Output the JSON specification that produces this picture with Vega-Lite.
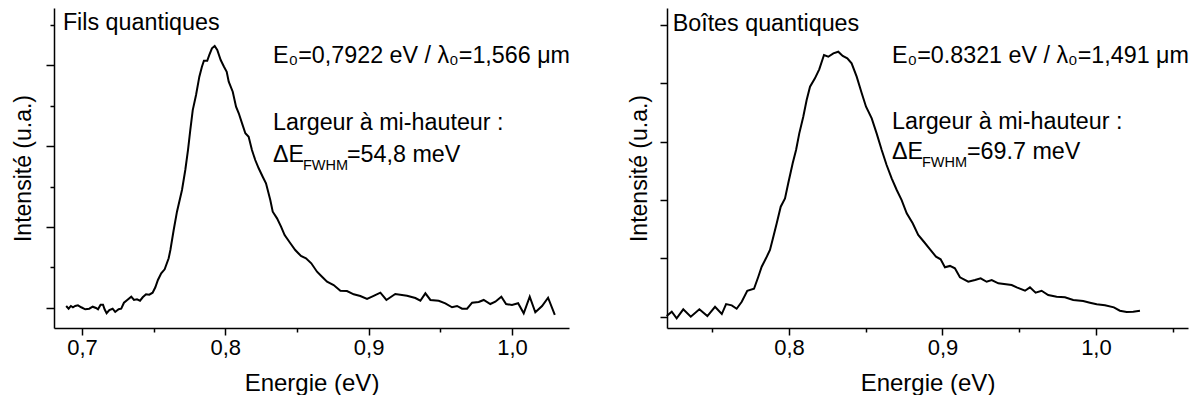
{
  "$schema": "https://vega.github.io/schema/vega-lite/v6.json",
  "padding": {"left": 12, "top": 8, "right": 0, "bottom": 0},
  "bounds": "flush",
  "spacing": 98,
  "config": {
    "view": {"stroke": null},
    "font": "Liberation Sans",
    "axis": {"grid": false, "domainColor": "black", "domainWidth": 1.5, "tickColor": "black", "tickWidth": 1.5, "labelColor": "black", "titleColor": "black", "labelFont": "Liberation Sans", "titleFont": "Liberation Sans", "labelFontSize": 22, "titleFontSize": 23, "titleFontWeight": "normal"}
  },
  "hconcat": [
    {
      "width": 515, "height": 320,
      "layer": [
        {
          "data": {"values": [
            {"E":0.6890,"I":0.025},{"E":0.6907,"I":-0.009},{"E":0.6923,"I":0.025},{"E":0.6937,"I":0.009},{"E":0.6953,"I":0.025},{"E":0.6972,"I":0.033},{"E":0.6995,"I":0.009},{"E":0.7023,"I":-0.016},{"E":0.7051,"I":-0.009},{"E":0.7075,"I":0.016},{"E":0.7098,"I":0},{"E":0.7112,"I":-0.016},{"E":0.7130,"I":0.041},{"E":0.7147,"I":0.041},{"E":0.7158,"I":-0.016},{"E":0.7172,"I":-0.065},{"E":0.7191,"I":-0.025},{"E":0.7214,"I":-0.009},{"E":0.7232,"I":-0.049},{"E":0.7256,"I":-0.016},{"E":0.7274,"I":-0.009},{"E":0.7293,"I":0.065},{"E":0.7316,"I":0.099},{"E":0.7344,"I":0.140},{"E":0.7363,"I":0.099},{"E":0.7384,"I":0.107},{"E":0.7405,"I":0.090},{"E":0.7424,"I":0.132},{"E":0.7447,"I":0.169},{"E":0.7470,"I":0.164},{"E":0.7493,"I":0.189},{"E":0.7512,"I":0.256},{"E":0.7530,"I":0.346},{"E":0.7553,"I":0.428},{"E":0.7577,"I":0.478},{"E":0.7605,"I":0.614},{"E":0.7617,"I":0.716},{"E":0.7640,"I":0.963},{"E":0.7663,"I":1.189},{"E":0.7698,"I":1.457},{"E":0.7721,"I":1.704},{"E":0.7740,"I":1.951},{"E":0.7756,"I":2.198},{"E":0.7773,"I":2.444},{"E":0.7796,"I":2.630},{"E":0.7819,"I":2.856},{"E":0.7837,"I":2.979},{"E":0.7851,"I":3.053},{"E":0.7874,"I":3.053},{"E":0.7888,"I":3.123},{"E":0.7907,"I":3.206},{"E":0.7926,"I":3.235},{"E":0.7944,"I":3.185},{"E":0.7968,"I":3.062},{"E":0.7991,"I":2.979},{"E":0.8010,"I":2.917},{"E":0.8024,"I":2.794},{"E":0.8052,"I":2.670},{"E":0.8075,"I":2.485},{"E":0.8094,"I":2.404},{"E":0.8117,"I":2.280},{"E":0.8140,"I":2.157},{"E":0.8163,"I":2.115},{"E":0.8186,"I":1.951},{"E":0.8209,"I":1.827},{"E":0.8233,"I":1.725},{"E":0.8261,"I":1.621},{"E":0.8284,"I":1.540},{"E":0.8314,"I":1.333},{"E":0.8331,"I":1.189},{"E":0.8361,"I":1.107},{"E":0.8389,"I":1.004},{"E":0.8414,"I":0.901},{"E":0.8454,"I":0.799},{"E":0.8488,"I":0.716},{"E":0.8528,"I":0.642},{"E":0.8563,"I":0.614},{"E":0.8600,"I":0.552},{"E":0.8640,"I":0.448},{"E":0.8675,"I":0.386},{"E":0.8710,"I":0.325},{"E":0.8756,"I":0.284},{"E":0.8803,"I":0.214},{"E":0.8849,"I":0.210},{"E":0.8896,"I":0.169},{"E":0.8942,"I":0.148},{"E":0.8989,"I":0.111},{"E":0.9024,"I":0.140},{"E":0.9082,"I":0.189},{"E":0.9124,"I":0.099},{"E":0.9186,"I":0.173},{"E":0.9268,"I":0.152},{"E":0.9326,"I":0.123},{"E":0.9361,"I":0.090},{"E":0.9396,"I":0.181},{"E":0.9431,"I":0.099},{"E":0.9489,"I":0.090},{"E":0.9535,"I":0.058},{"E":0.9582,"I":0.009},{"E":0.9617,"I":0.025},{"E":0.9652,"I":-0.009},{"E":0.9687,"I":-0.009},{"E":0.9722,"I":0.065},{"E":0.9768,"I":0.074},{"E":0.9803,"I":0.099},{"E":0.9849,"I":0.049},{"E":0.9884,"I":0.078},{"E":0.9926,"I":0.140},{"E":0.9959,"I":0.049},{"E":1.0000,"I":0.037},{"E":1.0043,"I":0.058},{"E":1.0082,"I":-0.065},{"E":1.0124,"I":0.140},{"E":1.0163,"I":-0.053},{"E":1.0210,"I":0.025},{"E":1.0252,"I":0.127},{"E":1.0299,"I":-0.086}
          ]},
          "mark": {"type": "line", "color": "black", "strokeWidth": 2},
          "encoding": {
            "x": {"field": "E", "type": "quantitative", "scale": {"domain": [0.6805, 1.0398], "nice": false, "zero": false},
              "axis": {"title": "Energie (eV)", "titleFontSize": 24, "values": [0.7, 0.75, 0.8, 0.85, 0.9, 0.95, 1.0],
                "labelExpr": "abs(datum.value*10 - round(datum.value*10)) < 0.01 ? replace(format(datum.value, '.1f'), '.', ',') : ''",
                "tickSize": {"condition": {"test": "abs(datum.value*10 - round(datum.value*10)) < 0.01", "value": 7}, "value": 4},
                "labelPadding": 2, "titlePadding": 13}},
            "y": {"field": "I", "type": "quantitative", "scale": {"domain": [-0.247, 3.704], "nice": false, "zero": false},
              "axis": {"title": "Intensité (u.a.)", "labels": false, "values": [0, 0.5, 1, 1.5, 2, 2.5, 3, 3.5],
                "tickSize": {"condition": {"test": "abs(datum.value - round(datum.value)) < 0.01", "value": 8}, "value": 4},
                "titlePadding": 10}}
          }
        },
        {
          "data": {"values": [
            {"E": 0.6867, "I": 3.432, "label": "Fils quantiques"},
            {"E": 0.8333, "I": 3.021, "label": "E₀=0,7922 eV / λ₀=1,566 μm"},
            {"E": 0.8333, "I": 2.198, "label": "Largeur à mi-hauteur :"},
            {"E": 0.8333, "I": 1.806, "label": "ΔE"}
          ]},
          "mark": {"type": "text", "align": "left", "baseline": "alphabetic", "fontSize": 23.3, "color": "black", "font": "Liberation Sans"},
          "encoding": {"x": {"field": "E", "type": "quantitative"}, "y": {"field": "I", "type": "quantitative"}, "text": {"field": "label"}}
        },
        {
          "data": {"values": [{"E": 0.8333, "I": 1.806, "label": "FWHM"}]},
          "mark": {"type": "text", "align": "left", "baseline": "alphabetic", "fontSize": 14.5, "dx": 30, "dy": 8, "color": "black", "font": "Liberation Sans"},
          "encoding": {"x": {"field": "E", "type": "quantitative"}, "y": {"field": "I", "type": "quantitative"}, "text": {"field": "label"}}
        },
        {
          "data": {"values": [{"E": 0.8333, "I": 1.806, "label": "=54,8 meV"}]},
          "mark": {"type": "text", "align": "left", "baseline": "alphabetic", "fontSize": 23.3, "dx": 74, "color": "black", "font": "Liberation Sans"},
          "encoding": {"x": {"field": "E", "type": "quantitative"}, "y": {"field": "I", "type": "quantitative"}, "text": {"field": "label"}}
        }
      ]
    },
    {
      "width": 521, "height": 320,
      "layer": [
        {
          "data": {"values": [
            {"E":0.7203,"I":0.012},{"E":0.7236,"I":0.086},{"E":0.7268,"I":-0.027},{"E":0.7311,"I":0.127},{"E":0.7360,"I":0.000},{"E":0.7416,"I":0.127},{"E":0.7468,"I":0.012},{"E":0.7518,"I":0.171},{"E":0.7562,"I":0.046},{"E":0.7590,"I":0.217},{"E":0.7627,"I":0.195},{"E":0.7659,"I":0.137},{"E":0.7692,"I":0.257},{"E":0.7728,"I":0.445},{"E":0.7772,"I":0.479},{"E":0.7800,"I":0.685},{"E":0.7822,"I":0.856},{"E":0.7850,"I":1.000},{"E":0.7876,"I":1.142},{"E":0.7898,"I":1.370},{"E":0.7920,"I":1.599},{"E":0.7946,"I":1.884},{"E":0.7974,"I":2.027},{"E":0.7995,"I":2.284},{"E":0.8024,"I":2.627},{"E":0.8046,"I":2.854},{"E":0.8067,"I":3.140},{"E":0.8093,"I":3.425},{"E":0.8115,"I":3.711},{"E":0.8137,"I":3.938},{"E":0.8169,"I":4.082},{"E":0.8197,"I":4.236},{"E":0.8228,"I":4.481},{"E":0.8256,"I":4.452},{"E":0.8289,"I":4.510},{"E":0.8321,"I":4.538},{"E":0.8350,"I":4.464},{"E":0.8380,"I":4.425},{"E":0.8408,"I":4.339},{"E":0.8441,"I":4.110},{"E":0.8474,"I":3.825},{"E":0.8502,"I":3.596},{"E":0.8539,"I":3.397},{"E":0.8571,"I":3.140},{"E":0.8604,"I":2.854},{"E":0.8636,"I":2.598},{"E":0.8669,"I":2.370},{"E":0.8702,"I":2.170},{"E":0.8734,"I":1.998},{"E":0.8767,"I":1.771},{"E":0.8806,"I":1.599},{"E":0.8842,"I":1.399},{"E":0.8879,"I":1.284},{"E":0.8919,"I":1.154},{"E":0.8958,"I":1.027},{"E":0.8988,"I":0.983},{"E":0.9016,"I":0.846},{"E":0.9049,"I":0.870},{"E":0.9081,"I":0.829},{"E":0.9114,"I":0.675},{"E":0.9168,"I":0.599},{"E":0.9212,"I":0.628},{"E":0.9249,"I":0.658},{"E":0.9288,"I":0.599},{"E":0.9321,"I":0.628},{"E":0.9364,"I":0.572},{"E":0.9451,"I":0.543},{"E":0.9484,"I":0.503},{"E":0.9538,"I":0.445},{"E":0.9570,"I":0.503},{"E":0.9607,"I":0.411},{"E":0.9646,"I":0.445},{"E":0.9689,"I":0.372},{"E":0.9744,"I":0.342},{"E":0.9798,"I":0.332},{"E":0.9852,"I":0.286},{"E":0.9917,"I":0.269},{"E":0.9961,"I":0.240},{"E":1.0005,"I":0.212},{"E":1.0059,"I":0.195},{"E":1.0117,"I":0.161},{"E":1.0156,"I":0.103},{"E":1.0200,"I":0.080},{"E":1.0243,"I":0.086},{"E":1.0287,"I":0.103}
          ]},
          "mark": {"type": "line", "color": "black", "strokeWidth": 2},
          "encoding": {
            "x": {"field": "E", "type": "quantitative", "scale": {"domain": [0.7205, 1.06], "nice": false, "zero": false},
              "axis": {"title": "Energie (eV)", "titleFontSize": 24, "values": [0.75, 0.8, 0.85, 0.9, 0.95, 1.0, 1.05],
                "labelExpr": "abs(datum.value*10 - round(datum.value*10)) < 0.01 ? replace(format(datum.value, '.1f'), '.', ',') : ''",
                "tickSize": {"condition": {"test": "abs(datum.value*10 - round(datum.value*10)) < 0.01", "value": 7}, "value": 4},
                "labelPadding": 2, "titlePadding": 13}},
            "y": {"field": "I", "type": "quantitative", "scale": {"domain": [-0.193, 5.286], "nice": false, "zero": false},
              "axis": {"title": "Intensité (u.a.)", "labels": false, "values": [0, 0.5, 1, 1.5, 2, 2.5, 3, 3.5, 4, 4.5, 5],
                "tickSize": {"condition": {"test": "abs(datum.value - round(datum.value)) < 0.01", "value": 7}, "value": 4},
                "titlePadding": 8}}
          }
        },
        {
          "data": {"values": [
            {"E": 0.7242, "I": 4.897, "label": "Boîtes quantiques"},
            {"E": 0.8671, "I": 4.339, "label": "E₀=0.8321 eV / λ₀=1,491 μm"},
            {"E": 0.8671, "I": 3.209, "label": "Largeur à mi-hauteur :"},
            {"E": 0.8671, "I": 2.695, "label": "ΔE"}
          ]},
          "mark": {"type": "text", "align": "left", "baseline": "alphabetic", "fontSize": 23.3, "color": "black", "font": "Liberation Sans"},
          "encoding": {"x": {"field": "E", "type": "quantitative"}, "y": {"field": "I", "type": "quantitative"}, "text": {"field": "label"}}
        },
        {
          "data": {"values": [{"E": 0.8671, "I": 2.695, "label": "FWHM"}]},
          "mark": {"type": "text", "align": "left", "baseline": "alphabetic", "fontSize": 14.5, "dx": 30, "dy": 8, "color": "black", "font": "Liberation Sans"},
          "encoding": {"x": {"field": "E", "type": "quantitative"}, "y": {"field": "I", "type": "quantitative"}, "text": {"field": "label"}}
        },
        {
          "data": {"values": [{"E": 0.8671, "I": 2.695, "label": "=69.7 meV"}]},
          "mark": {"type": "text", "align": "left", "baseline": "alphabetic", "fontSize": 23.3, "dx": 75, "color": "black", "font": "Liberation Sans"},
          "encoding": {"x": {"field": "E", "type": "quantitative"}, "y": {"field": "I", "type": "quantitative"}, "text": {"field": "label"}}
        }
      ]
    }
  ]
}
